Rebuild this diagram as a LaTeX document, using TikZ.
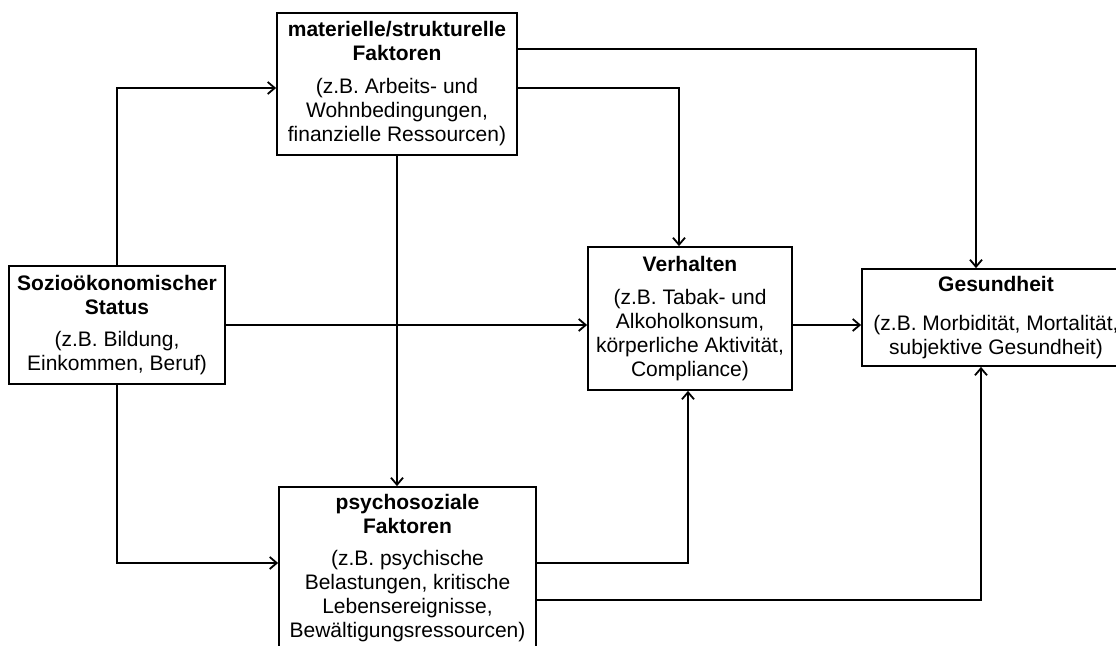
\documentclass[tikz,border=0pt]{standalone}
\usepackage{fontspec}
\setmainfont{Liberation Sans}
\usetikzlibrary{arrows.meta, calc}
\tikzset{box/.style={draw, thick, line width=0.9pt, inner sep=0pt, align=center, font=\fontsize{10.5}{12}\selectfont}}
\tikzset{link/.style={line width=0.9pt, black, -{Straight Barb[length=3.5pt,width=6pt]}}}
\tikzset{line/.style={line width=0.9pt, black}}

\begin{document}
\begin{tikzpicture}[x=0.5pt, y=-0.5pt]
		\useasboundingbox (0,0) rectangle (1116,646);

		% Boxes
		\node[box, minimum width=120pt, minimum height=71pt] (mat) at (397,84)
			{\textbf{materielle/strukturelle}\\\textbf{Faktoren}\\[4.5pt](z.B. Arbeits- und\\Wohnbedingungen,\\finanzielle Ressourcen)};
		\node[box, minimum width=108pt, minimum height=59pt] (ses) at (117,325)
			{\textbf{Sozioökonomischer}\\\textbf{Status}\\[4pt](z.B. Bildung,\\Einkommen, Beruf)};
		\node[box, minimum width=102pt, minimum height=71.5pt] (verh) at (690,318.5)
			{\textbf{Verhalten}\\[4.5pt](z.B. Tabak- und\\Alkoholkonsum,\\körperliche Aktivität,\\Compliance)};
		\node[box, minimum width=134pt, minimum height=48.5pt] (ges) at (996,317.5)
			{\textbf{Gesundheit}\\[7.5pt](z.B. Morbidität, Mortalität,\\subjektive Gesundheit)};
		\node[box, minimum width=128.5pt, minimum height=81pt] (psy) at (407.5,568)
			{\textbf{psychosoziale}\\\textbf{Faktoren}\\[4pt](z.B. psychische\\Belastungen, kritische\\Lebensereignisse,\\Bewältigungsressourcen)};

		% Coordinates
		\coordinate (M1) at ($(mat.east)+(0,-35)$);
		\coordinate (M2) at ($(mat.east)+(0,4)$);
		\coordinate (P1) at ($(psy.east)+(0,-5)$);
		\coordinate (P2) at ($(psy.east)+(0,32)$);
		\coordinate (V1) at ($(verh.north)+(-11,0)$);
		\coordinate (V2) at ($(verh.south)+(-2,0)$);
		\coordinate (G1) at ($(ges.north)+(-20,0)$);
		\coordinate (G2) at ($(ges.south)+(-15,0)$);

		% Arrows
		\draw[link] (ses.north) |- ($(mat.west)+(0,4)$);
		\draw[link] (ses.east) -- (ses.east -| verh.west);
		\draw[link] (ses.south) |- ($(psy.west)+(0,-5)$);
		\draw[link] (mat.south) -- (mat.south |- psy.north);
		\draw[link] (M1) -| (G1);
		\draw[link] (M2) -| (V1);
		\draw[link] (verh.east |- ses.east) -- (ges.west |- ses.east);
		\draw[link] (P1) -| (V2);
		\draw[link] (P2) -| (G2);
	\end{tikzpicture}
\end{document}
